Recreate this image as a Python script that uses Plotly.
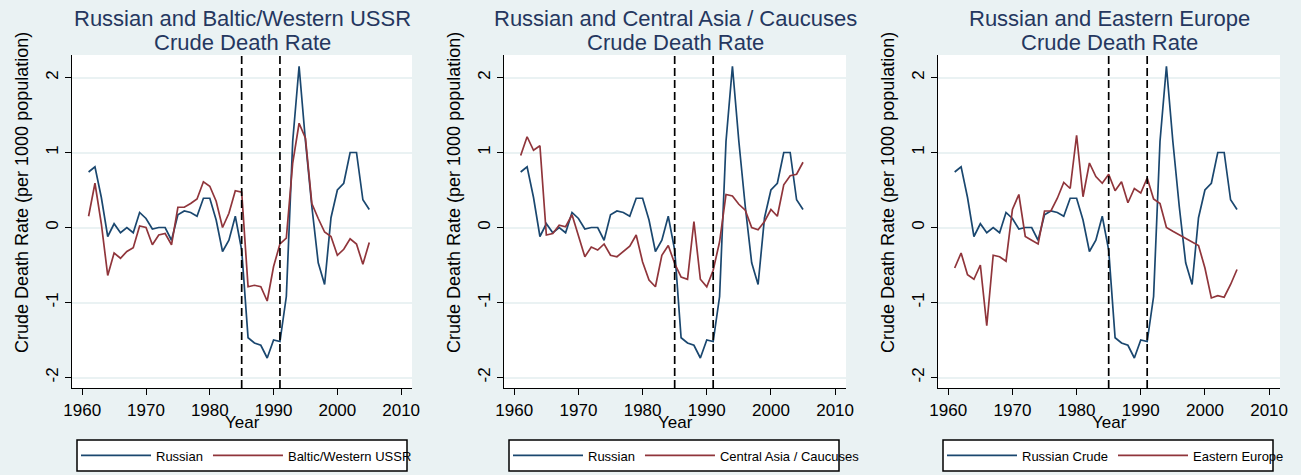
import plotly.graph_objects as go

years = list(range(1961, 2006))
event_years = [1985, 1991]

russian = [0.74, 0.81, 0.40, -0.12, 0.05, -0.07, 0.00, -0.07, 0.20, 0.12,
           -0.02, 0.00, 0.00, -0.17, 0.17, 0.22, 0.20, 0.15, 0.39, 0.39,
           0.10, -0.32, -0.17, 0.15, -0.30, -1.47, -1.54, -1.57, -1.74, -1.50,
           -1.52, -0.92, 1.15, 2.15, 1.15, 0.28, -0.47, -0.76, 0.13, 0.50,
           0.59, 1.00, 1.00, 0.37, 0.24]

baltic_western = [0.15, 0.59, 0.05, -0.64, -0.34, -0.41, -0.32, -0.27, 0.02, 0.00,
                  -0.23, -0.10, -0.08, -0.23, 0.27, 0.27, 0.32, 0.38, 0.61, 0.55,
                  0.35, 0.00, 0.19, 0.49, 0.47, -0.79, -0.77, -0.79, -0.98, -0.52,
                  -0.22, -0.14, 0.86, 1.39, 1.19, 0.32, 0.12, -0.06, -0.12, -0.37,
                  -0.29, -0.15, -0.22, -0.49, -0.20]

central_asia = [0.96, 1.21, 1.03, 1.09, -0.10, -0.08, 0.03, 0.01, 0.17, -0.12,
                -0.39, -0.26, -0.30, -0.22, -0.37, -0.39, -0.32, -0.25, -0.10, -0.46,
                -0.70, -0.79, -0.37, -0.24, -0.48, -0.66, -0.69, 0.08, -0.69, -0.79,
                -0.57, -0.19, 0.44, 0.42, 0.31, 0.23, 0.00, -0.03, 0.08, 0.24,
                0.15, 0.57, 0.69, 0.71, 0.87]

eastern_europe = [-0.54, -0.34, -0.63, -0.69, -0.50, -1.31, -0.37, -0.39, -0.45, 0.24,
                  0.44, -0.12, -0.17, -0.22, 0.22, 0.22, 0.39, 0.60, 0.52, 1.23,
                  0.41, 0.86, 0.68, 0.59, 0.71, 0.49, 0.61, 0.33, 0.52, 0.46,
                  0.66, 0.38, 0.32, 0.00, -0.05, -0.10, -0.14, -0.19, -0.24, -0.54,
                  -0.94, -0.91, -0.93, -0.76, -0.56]

title_line1 = ["Russian and Baltic/Western USSR",
               "Russian and Central Asia / Caucuses",
               "Russian and Eastern Europe"]
title_line2 = "Crude Death Rate"
russian_names = ["Russian", "Russian", "Russian Crude"]
other_names = ["Baltic/Western USSR", "Central Asia / Caucuses", "Eastern Europe"]
other_series = [baltic_western, central_asia, eastern_europe]
y_title = "Crude Death Rate (per 1000 population)"
x_title = "Year"
x_ticks = [1960, 1970, 1980, 1990, 2000, 2010]
y_ticks = [-2, -1, 0, 1, 2]
y_tick_labels = ["-2", "-1", "0", "1", "2"]

W, H = 1301, 475
NAVY = "#1a476f"
MAROON = "#90353b"
BG = "#eaf2f3"
TITLE_C = "#25375f"
FONT = "Liberation Sans, Arial, sans-serif"

# plot-area pixel boxes (left, right)
px_boxes = [(72, 412), (504, 846), (938, 1280)]
top_px, bot_px = 55, 388
leg_top, leg_bot, leg_w = 440, 471, 330

fig = go.Figure()
layout = dict(
    width=W, height=H,
    margin=dict(l=0, r=0, t=0, b=0, autoexpand=False),
    paper_bgcolor=BG, plot_bgcolor="white",
    font=dict(family=FONT, color="black"),
    annotations=[], shapes=[],
)


def ann(text, xpx, ypx, size, color="black", angle=0):
    return dict(text=text, xref="paper", yref="paper", x=xpx / W, y=1 - ypx / H,
                xanchor="center", yanchor="middle", showarrow=False, textangle=angle,
                font=dict(size=size, color=color))


for i in range(3):
    n = "" if i == 0 else str(i + 1)
    xa, ya = "x" + n, "y" + n
    lg = "legend" + n
    l, r = px_boxes[i]
    fig.add_trace(go.Scatter(x=years, y=russian, mode="lines", name=russian_names[i],
                             line=dict(color=NAVY, width=1.7), xaxis=xa, yaxis=ya, legend=lg))
    fig.add_trace(go.Scatter(x=years, y=other_series[i], mode="lines", name=other_names[i],
                             line=dict(color=MAROON, width=1.7), xaxis=xa, yaxis=ya, legend=lg))
    layout["xaxis" + n] = dict(
        domain=[l / W, r / W], anchor=ya, range=[1958.4, 2011.7], automargin=False,
        tickvals=x_ticks, ticks="outside", ticklen=6, tickwidth=1.2, tickcolor="black",
        showline=True, linecolor="black", linewidth=1.3, showgrid=False, zeroline=False,
        tickfont=dict(size=17, color="black"),
    )
    layout["yaxis" + n] = dict(
        domain=[1 - bot_px / H, 1 - top_px / H], anchor=xa, range=[-2.14, 2.3],
        automargin=False,
        tickvals=y_ticks, ticktext=y_tick_labels, ticks="outside", ticklen=6,
        tickwidth=1.2, tickcolor="black",
        tickangle=-90, showline=True, linecolor="black", linewidth=1.3,
        showgrid=True, gridcolor=BG, gridwidth=1.6, zeroline=False,
        tickfont=dict(size=17, color="black"),
    )
    for ev in event_years:
        layout["shapes"].append(dict(type="line", xref=xa, yref="paper", x0=ev, x1=ev,
                                     y0=1 - bot_px / H, y1=1 - top_px / H,
                                     line=dict(color="black", width=1.7, dash="8px,4px")))
    # legend frame
    layout["shapes"].append(dict(type="rect", xref="paper", yref="paper",
                                 x0=(l + 5) / W, x1=(l + 5 + leg_w) / W,
                                 y0=1 - leg_bot / H, y1=1 - leg_top / H,
                                 fillcolor="white", line=dict(color="black", width=1.5),
                                 layer="below"))
    cx = (l + r) / 2
    layout["annotations"].append(ann(title_line1[i], cx, 18, 22, TITLE_C))
    layout["annotations"].append(ann(title_line2, cx, 42, 22, TITLE_C))
    layout["annotations"].append(ann(x_title, cx, 422, 17))
    layout["annotations"].append(ann(y_title, l - 50, 193, 18, angle=-90))
    layout[lg] = dict(
        orientation="h", x=(l + 4) / W, xanchor="left",
        y=1 - (leg_top + leg_bot) / 2 / H, yanchor="middle",
        bgcolor="rgba(0,0,0,0)", borderwidth=0,
        font=dict(size=13, color="black"), itemwidth=70,
    )

fig.update_layout(**layout)
fig.write_html("out.html", config={"displayModeBar": False},
               post_script="document.body.style.margin='0px';"
                           "document.body.style.overflow='hidden';")
